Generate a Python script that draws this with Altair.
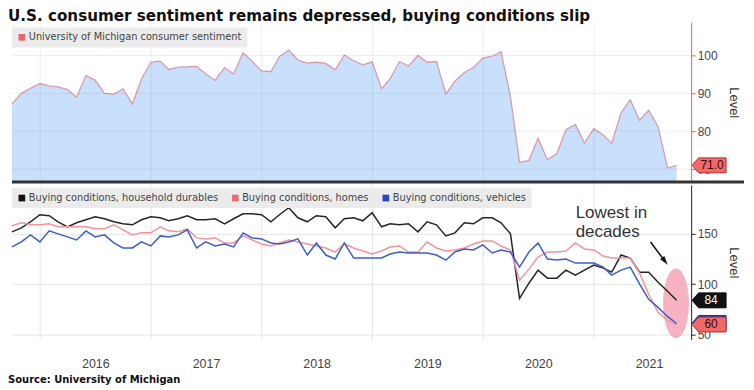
import altair as alt
import pandas as pd

# ---------------- data ----------------
months = pd.date_range("2015-09-30", periods=73, freq=pd.offsets.MonthEnd())

sentiment = [87.2, 90.0, 91.3, 92.6,
             92.0, 91.7, 91.0, 89.0, 94.7, 93.5, 90.0, 89.8, 91.2, 87.2, 93.8, 98.2,
             98.5, 96.3, 96.9, 97.0, 97.1, 95.1, 93.4, 96.8, 95.1, 100.7, 98.5, 95.9,
             95.7, 99.7, 101.4, 98.8, 98.0, 98.2, 97.9, 96.2, 100.1, 98.6, 97.5, 98.3,
             91.2, 93.8, 98.4, 97.2, 100.0, 98.2, 98.4, 89.8, 93.2, 95.5, 96.8, 99.3,
             99.8, 101.0, 89.1, 71.8, 72.3, 78.1, 72.5, 74.1, 80.4, 81.8, 76.9, 80.7,
             79.0, 76.8, 84.9, 88.3, 82.9, 85.5, 81.2, 70.3, 71.0]

durables = [152, 156, 162, 169, 168, 162, 157, 161, 164, 167,
            165, 162, 160, 159, 164, 167, 166, 163, 165, 168,
            164, 164, 165, 160, 165, 170, 170, 169, 162, 169,
            176, 166, 162, 168, 167, 156, 165, 166, 163, 171,
            157, 160, 159, 160, 152, 162, 159, 148, 151, 161,
            160, 166, 166, 161, 150, 86, 101, 114, 106, 106,
            114, 109, 114, 119, 116, 112, 129, 126, 112, 112,
            102, 93, 84]

homes = [158, 161, 159, 159, 160, 157, 157, 157, 157, 155,
         155, 159, 154, 149, 151, 151, 157, 153, 152, 155,
         146, 145, 146, 141, 141, 148, 144, 140, 138, 141,
         144, 142, 140, 138, 136, 132, 140, 136, 133, 130,
         133, 137, 138, 132, 132, 142, 136, 133, 134, 136,
         140, 143, 143, 138, 134, 104, 115, 127, 132, 132,
         133, 141, 135, 134, 128, 126, 126, 126, 111, 90,
         72, 64, 60]

vehicles = [137, 142, 149, 142, 153, 150, 147, 144, 153, 147,
            149, 141, 136, 136, 142, 138, 148, 147, 149, 154,
            136, 142, 138, 140, 137, 151, 146, 145, 141, 140,
            142, 145, 129, 141, 129, 125, 141, 126, 126, 126,
            126, 130, 132, 131, 131, 131, 129, 124, 132, 135,
            134, 139, 131, 134, 132, 117, 132, 141, 125, 124,
            125, 121, 121, 121, 117, 109, 114, 117, 100, 85,
            77, 68, 61]

TOP_NAME = "University of Michigan consumer sentiment"
SERIES = ["Buying conditions, household durables",
          "Buying conditions, homes",
          "Buying conditions, vehicles"]
LINE_COLORS = ["#262626", "#f2959b", "#3c5ec9"]
LEGEND_COLORS = ["#111111", "#ee6b76", "#2446c4"]

grid_years = [2016, 2017, 2018, 2019, 2020, 2021]
top_ticks = [70, 80, 90, 100]
bottom_ticks = [50, 100, 150]

title_text = "U.S. consumer sentiment remains depressed, buying conditions slip"
source_text = "Source: University of Michigan"
annotation_text = "Lowest in\ndecades"
annotation_at = ("2020-11-01", 165.5)
arrow_from = ("2021-07-06", 142)
arrow_to = ("2021-08-22", 123)
ellipse_at = ("2021-09-28", 81)

# ---------------- layout ----------------
W = 681
H1 = 160
H2 = 155
TOP_MIN, TOP_MAX = 66.6, 108.7
BOT_MIN, BOT_MAX = 45, 198.5
FONT = "Liberation Sans"
TAG = "M-1,0L-0.62,-0.44L1,-0.44L1,0.44L-0.62,0.44Z"
ELLIPSE = "M0,-1A0.37,1,0,1,1,0,1A0.37,1,0,1,1,0,-1Z"
ARROW = "M0,-1L0.55,0.9L-0.55,0.9Z"

xscale = alt.Scale(domain=[alt.DateTime(year=2015, month=9, date=30),
                           alt.DateTime(year=2021, month=11, date=17)])

top_df = pd.DataFrame({"date": months, "value": sentiment, "series": TOP_NAME})
bot_df = pd.concat([
    pd.DataFrame({"date": months, "value": vals, "series": name, "key": name})
    for name, vals in zip(SERIES, [durables, homes, vehicles])
])
grid_df = pd.DataFrame({"date": pd.to_datetime([f"{y}-01-01" for y in grid_years])})

# ---------------- top panel ----------------
X_top = alt.X("date:T", scale=xscale, axis=None)
Y_top = alt.Y("value:Q", stack=None,
              scale=alt.Scale(domain=[TOP_MIN, TOP_MAX], nice=False, zero=False),
              axis=alt.Axis(orient="right", values=top_ticks, title="Level", grid=False,
                            domainColor="#e0626f", tickColor="#e0626f", tickSize=4,
                            labelFontSize=12, labelColor="#444", labelFont=FONT,
                            labelPadding=2, titleFontSize=13, titleFontWeight="normal",
                            titleColor="#333", titleFont=FONT, titlePadding=9))


def make_tag(y_enc, value, fill, stroke, label, tcolor, text_dx=21):
    df = pd.DataFrame({"value": [value], "label": [label]})
    box = alt.Chart(df).mark_point(
        shape=TAG, size=1156, filled=True, fill=fill, stroke=stroke,
        strokeWidth=1, opacity=1).encode(x=alt.value(W + 18), y=y_enc)
    txt = alt.Chart(df).mark_text(
        align="center", baseline="middle", fontSize=12, font=FONT, color=tcolor).encode(
        x=alt.value(W + text_dx), y=y_enc, text="label:N")
    return [box, txt]


area = alt.Chart(top_df).mark_area(color="#c8e0fb").encode(
    x=X_top, y=Y_top, y2=alt.datum(TOP_MIN))
line = alt.Chart(top_df).mark_line(color="#d99aae", strokeWidth=1.3).encode(x=X_top, y=Y_top)
hgrid_top = alt.Chart(pd.DataFrame({"value": top_ticks})).mark_rule(
    color="#000", opacity=0.07).encode(y=Y_top, x=alt.value(0), x2=alt.value(W))
vgrid_top = alt.Chart(grid_df).mark_rule(color="#000", opacity=0.07).encode(
    x=X_top, y=alt.value(0), y2=alt.value(H1))
top_legend = alt.Chart(top_df).mark_square(opacity=0).encode(
    x=X_top, y=Y_top,
    color=alt.Color("series:N", scale=alt.Scale(domain=[TOP_NAME], range=["#e8656f"]),
                    legend=alt.Legend(orient="none", legendX=0, legendY=5, title=None,
                                      fillColor="#ebebeb", padding=5, symbolType="square",
                                      symbolSize=45, symbolOpacity=1, symbolStrokeWidth=0,
                                      labelFont="DejaVu Sans", labelFontSize=9.8,
                                      labelColor="#444", labelOffset=2, labelLimit=0)))
separator = alt.Chart(pd.DataFrame({"a": [0]})).mark_rule(color="#333", strokeWidth=3).encode(
    x=alt.value(0), x2=alt.value(734), y=alt.value(H1))
top_tags = make_tag(Y_top, sentiment[-1], "#f06a6a", "#b52a2a",
                    f"{sentiment[-1]:.1f}", "#3b0a0a")

top = alt.layer(area, line, hgrid_top, vgrid_top, top_legend, separator,
                *top_tags).properties(width=W, height=H1)

# ---------------- bottom panel ----------------
X_bot = alt.X("date:T", scale=xscale, title=None,
              axis=alt.Axis(values=[alt.DateTime(year=y, month=7, date=1) for y in grid_years],
                            format="%Y", domain=False, ticks=False, grid=False,
                            labelFontSize=12.5, labelColor="#444", labelFont=FONT,
                            labelPadding=18, labelFlush=False))
Y_bot = alt.Y("value:Q", stack=None,
              scale=alt.Scale(domain=[BOT_MIN, BOT_MAX], nice=False, zero=False),
              axis=alt.Axis(orient="right", values=bottom_ticks, title="Level", grid=True,
                            gridColor="#e6e6e6", domainColor="#222", tickColor="#222",
                            tickSize=4, labelFontSize=12, labelColor="#444", labelFont=FONT,
                            labelPadding=2, titleFontSize=13, titleFontWeight="normal",
                            titleColor="#333", titleFont=FONT, titlePadding=9))

vgrid_bot = alt.Chart(grid_df).mark_rule(color="#e6e6e6").encode(
    x=X_bot, y=alt.value(0), y2=alt.value(H2))
ellipse = alt.Chart(pd.DataFrame({"date": [ellipse_at[0]], "value": [ellipse_at[1]]})).mark_point(
    shape=ELLIPSE, size=4900, filled=True, fill="#f5a0b2", opacity=0.8, strokeWidth=0).encode(
    x=X_bot, y=Y_bot)
bot_legend = alt.Chart(bot_df).mark_square(opacity=0).encode(
    x=X_bot, y=Y_bot,
    color=alt.Color("key:N", scale=alt.Scale(domain=SERIES, range=LEGEND_COLORS),
                    legend=alt.Legend(orient="none", legendX=0, legendY=3, title=None,
                                      direction="horizontal", columns=3,
                                      fillColor="#ebebeb", padding=5, symbolType="square",
                                      symbolSize=45, symbolOpacity=1, symbolStrokeWidth=0,
                                      labelFont="DejaVu Sans", labelFontSize=9.8,
                                      labelColor="#444", labelOffset=2, columnPadding=12,
                                      labelLimit=0)))
series_lines = [
    alt.Chart(bot_df[bot_df["series"] == name]).mark_line(strokeWidth=1.5, color=col).encode(
        x=X_bot, y=Y_bot)
    for name, col in zip(SERIES, LINE_COLORS)
]
note = alt.Chart(pd.DataFrame({"date": [annotation_at[0]], "value": [annotation_at[1]],
                               "t": [annotation_text]})).mark_text(
    align="left", baseline="alphabetic", fontSize=17, font=FONT, color="#333",
    lineBreak="\n", lineHeight=19).encode(x=X_bot, y=Y_bot, text="t:N")
arrow_df = pd.DataFrame({"date": [arrow_from[0]], "value": [arrow_from[1]],
                         "date2": [arrow_to[0]], "value2": [arrow_to[1]]})
arrow = alt.Chart(arrow_df).mark_rule(color="#111", strokeWidth=1.5).encode(
    x=X_bot, y=Y_bot, x2="date2:T", y2="value2:Q")
arrow_head = alt.Chart(pd.DataFrame({"date": [arrow_to[0]], "value": [arrow_to[1]]})).mark_point(
    shape=ARROW, size=90, filled=True, fill="#111", opacity=1, angle=143).encode(x=X_bot, y=Y_bot)

bot_tags = (make_tag(Y_bot, vehicles[-1] + 0.5, "#2446c4", "#1a2f8a", "", "#ffffff")
            + make_tag(Y_bot, homes[-1], "#f06a6a", "#b52a2a", f"{homes[-1]}", "#3b0a0a", 20)
            + make_tag(Y_bot, durables[-1], "#111111", "#000000", f"{durables[-1]}", "#ffffff", 20))
source = alt.Chart(pd.DataFrame({"t": [source_text]})).mark_text(
    align="left", baseline="middle", fontSize=10, font="DejaVu Sans", fontWeight="bold",
    color="#111").encode(x=alt.value(-4), y=alt.value(H2 + 41), text="t:N")

bottom = alt.layer(vgrid_bot, ellipse, *series_lines, bot_legend, note, arrow, arrow_head,
                   *bot_tags, source).properties(width=W, height=H2)

chart = alt.vconcat(top, bottom, spacing=0).resolve_scale(
    color="independent").resolve_legend(color="independent").properties(
    title=alt.TitleParams(title_text, anchor="start", font="DejaVu Sans", fontSize=15.2,
                          fontWeight="bold", color="#111", offset=-2),
    padding=0,
).configure_view(stroke=None)

chart.save("out.html", embed_options={"renderer": "svg", "actions": False})
